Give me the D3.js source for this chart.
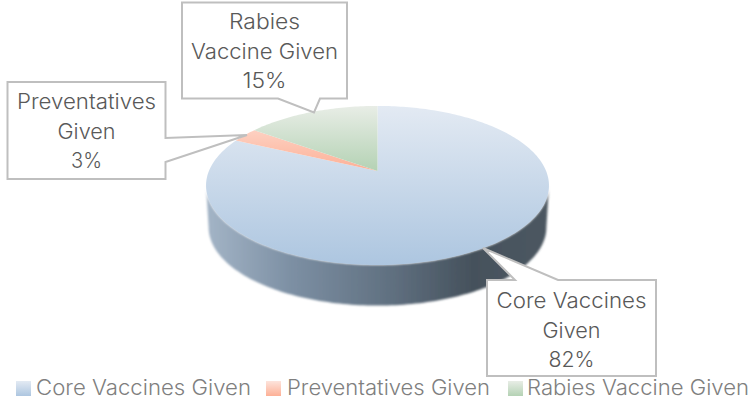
<!DOCTYPE html>
<html><head><meta charset="utf-8">
<script src="https://cdn.jsdelivr.net/npm/d3@7/dist/d3.min.js"></script>
<style>html,body{margin:0;padding:0;background:#fff}svg{display:block}</style>
</head><body><svg id="c" width="750" height="402"></svg>
<script>
const categories = ["Core Vaccines Given", "Preventatives Given", "Rabies Vaccine Given"];
const values = [82, 3, 15];
const labelLines = [["Core Vaccines", "Given", "82%"], ["Preventatives", "Given", "3%"], ["Rabies", "Vaccine Given", "15%"]];
const gradientStops = [["#e3eaf3", "#adc6e0"], ["#fde4dc", "#fdb096"], ["#e8ede6", "#b4d2b4"]];
const sideStops = [[0, "#a3b4c6"], [0.25, "#7c8fa3"], [0.55, "#5f6f7f"], [0.78, "#45515c"], [1, "#4d5862"]];

const svg = d3.select("#c");
const defs = svg.append("defs");
const cx = 377.5, apexY = 171, A = 168.6, B = 76.9, P = 0.182, depth = 42;
const project = (a, dy = 0, s = 1) => {
  const u = Math.sin(a), v = Math.cos(a), w = 1 + P * v;
  return [cx + s * A * u / w, apexY + dy - s * B * v / w];
};
const pie = d3.pie().value(d => d).sort(null).startAngle(0).endAngle(2 * Math.PI);
const arcs = pie(values);
const line = d3.line();
const sample = (a0, a1, dy, s) => {
  const n = Math.max(2, Math.ceil(Math.abs(a1 - a0) / 0.02));
  return d3.range(n + 1).map(i => project(a0 + (a1 - a0) * i / n, dy, s));
};

// gradients
const topY = project(0)[1], botY = project(Math.PI)[1];
categories.forEach((c, i) => {
  const g = defs.append("linearGradient").attr("id", "g" + i).attr("gradientUnits", "userSpaceOnUse")
    .attr("x1", 0).attr("x2", 0).attr("y1", topY).attr("y2", i === 0 ? botY : apexY);
  g.append("stop").attr("offset", 0).attr("stop-color", gradientStops[i][0]);
  g.append("stop").attr("offset", 1).attr("stop-color", gradientStops[i][1]);
  const l = defs.append("linearGradient").attr("id", "l" + i).attr("x1", 0).attr("x2", 0).attr("y1", 0).attr("y2", 1);
  l.append("stop").attr("offset", 0).attr("stop-color", gradientStops[i][0]);
  l.append("stop").attr("offset", 1).attr("stop-color", gradientStops[i][1]);
});
const side = defs.append("linearGradient").attr("id", "side").attr("gradientUnits", "userSpaceOnUse")
  .attr("x1", cx - 170).attr("x2", cx + 170).attr("y1", 0).attr("y2", 0);
sideStops.forEach(s => side.append("stop").attr("offset", s[0]).attr("stop-color", s[1]));
defs.append("filter").attr("id", "soft").attr("x", "-5%").attr("y", "-5%").attr("width", "110%").attr("height", "110%")
  .append("feGaussianBlur").attr("stdDeviation", 0.9);

// side wall: visible front part of the largest slice
const ext = Math.acos(-P);
const wallTop = sample(ext, 2 * Math.PI - ext, 0, 1);
const wallBot = sample(2 * Math.PI - ext, ext, depth, 0.985);
svg.append("path").attr("d", line(wallTop.concat(wallBot)) + "Z")
  .attr("fill", "url(#side)").attr("filter", "url(#soft)");

// top face
arcs.forEach((d, i) => {
  const pts = [project(0, 0, 0)].concat(sample(d.startAngle, d.endAngle, 0, 1));
  svg.append("path").attr("d", line(pts) + "Z").attr("fill", `url(#g${i})`);
});

// callouts
const callouts = [
  { pts: [[487, 280], [515, 280], [483, 248], [558, 280], [656, 280], [656, 376], [487, 376]], cx: 571.5, y: 308 },
  { pts: [[7.5, 82], [165.5, 82], [165.5, 138], [247, 135], [165.5, 162], [165.5, 179], [7.5, 179]], cx: 86.5, y: 109 },
  { pts: [[182, 2.5], [347, 2.5], [347, 98.5], [320, 98.5], [314, 112.5], [278, 98.5], [182, 98.5]], cx: 264.5, y: 29 }
];
const lineGap = 29.5;
const calloutWidths = [[150, 58, 46], [139, 58, 31], [71, 147, 44]];
callouts.forEach((c, i) => {
  svg.append("path").attr("d", line(c.pts) + "Z").attr("fill", "#fff")
    .attr("stroke", "#bfbfbf").attr("stroke-width", 2).attr("stroke-linejoin", "miter");
  labelLines[i].forEach((t, j) => {
    svg.append("text").attr("x", c.cx).attr("y", c.y + j * lineGap).attr("text-anchor", "middle")
      .attr("font-family", "Inter, 'Open Sans', sans-serif").attr("font-size", 21).attr("font-weight", 300).attr("fill", "#595959")
      .attr("textLength", calloutWidths[i][j]).attr("lengthAdjust", "spacingAndGlyphs").text(t);
  });
});

// legend
const legendX = [[16, 36, 215], [266, 287, 203], [508, 527, 222]];
categories.forEach((c, i) => {
  svg.append("rect").attr("x", legendX[i][0]).attr("y", 381).attr("width", 15).attr("height", 15).attr("fill", `url(#l${i})`);
  svg.append("text").attr("x", legendX[i][1]).attr("y", 395).attr("font-family", "Inter, 'Open Sans', sans-serif")
    .attr("font-size", 21).attr("font-weight", 300).attr("fill", "#7f7f7f").attr("textLength", legendX[i][2]).attr("lengthAdjust", "spacingAndGlyphs").text(c);
});
</script></body></html>
